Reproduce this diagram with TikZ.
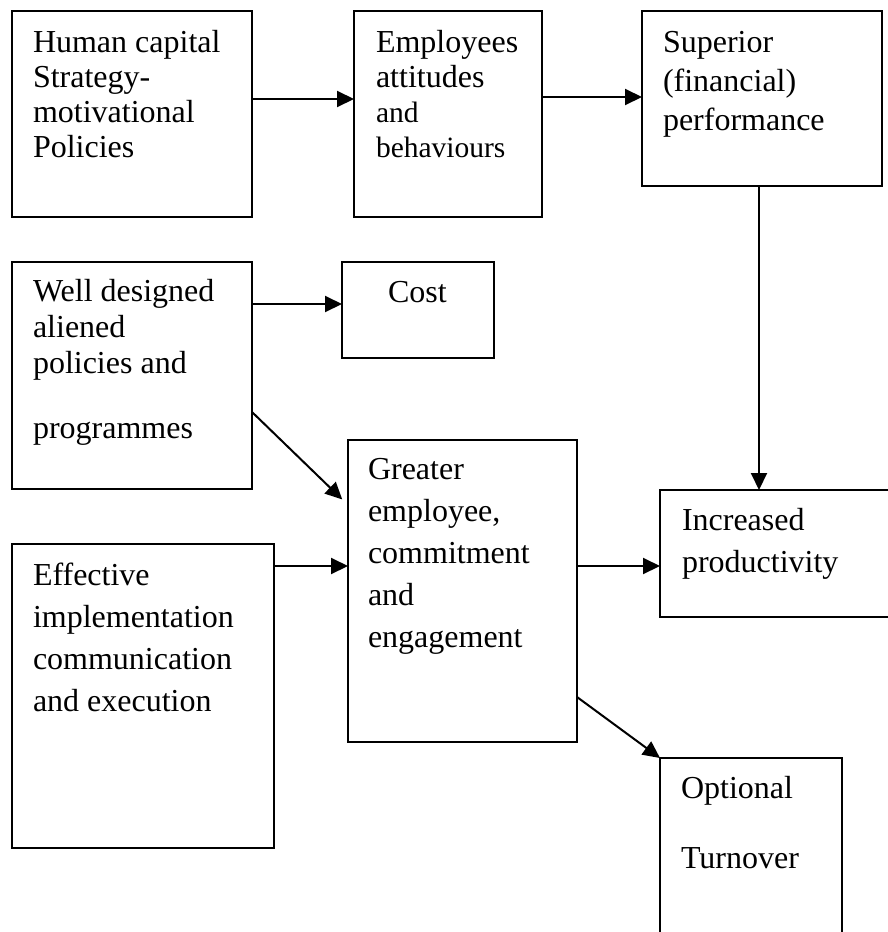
\documentclass[tikz,border=0pt]{standalone}
\usepackage{fontspec}
\setmainfont{Liberation Serif}
\usetikzlibrary{arrows.meta}

\tikzset{
  box/.style={draw, line width=2pt, rectangle, inner sep=0pt, outer sep=0pt, anchor=north west},
  % multi-line labels are placed by the baseline of their last line
  txt/.style={inner sep=0pt, outer sep=0pt, align=left, anchor=base west},
  arr/.style={line width=2pt, -{Triangle[length=17pt,width=16pt]}},
}

\begin{document}
\begin{tikzpicture}[x=1pt, y=1pt]
  \useasboundingbox (0,0) rectangle (888,-932);
  \clip (0,0) rectangle (888,-932);
  \fill[white] (0,0) rectangle (888,-932);

  % boxes
  \node[box, minimum width=240, minimum height=206] (hc)   at (12,-11)  {};
  \node[box, minimum width=188, minimum height=206] (emp)  at (354,-11) {};
  \node[box, minimum width=240, minimum height=175] (sup)  at (642,-11) {};
  \node[box, minimum width=240, minimum height=227] (wd)   at (12,-262) {};
  \node[box, minimum width=152, minimum height=96]  (cost) at (342,-262) {};
  \node[box, minimum width=229, minimum height=302] (gr)   at (348,-440) {};
  \node[box, minimum width=262, minimum height=304] (eff)  at (12,-544) {};
  \node[box, minimum width=250, minimum height=127] (inc)  at (660,-490) {};
  \node[box, minimum width=182, minimum height=200] (opt)  at (660,-758) {};

  % labels
  \node[txt, font=\fontsize{32}{35}\selectfont] (hc-t) at (33,-157)
    {Human capital\\Strategy-\\motivational\\Policies};
  \node[txt, font=\fontsize{32}{35}\selectfont] (emp-t) at (376,-157)
    {Employees\\attitudes\\{\fontsize{29.5}{35}\selectfont and}\\{\fontsize{29.5}{35}\selectfont behaviours}};
  \node[txt, font=\fontsize{32}{39}\selectfont] (sup-t) at (663,-130)
    {Superior\\(financial)\\performance};
  \node[txt, font=\fontsize{32}{36}\selectfont] (wd-t) at (33,-438)
    {Well designed\\aliened\\policies and\\[29pt]programmes};
  \node[txt, font=\fontsize{32}{36}\selectfont] (cost-t) at (388,-302) {Cost};
  \node[txt, font=\fontsize{32}{42}\selectfont] (gr-t) at (368,-647)
    {Greater\\employee,\\commitment\\and\\engagement};
  \node[txt, font=\fontsize{32}{42}\selectfont] (eff-t) at (33,-711)
    {Effective\\implementation\\communication\\and execution};
  \node[txt, font=\fontsize{32}{42}\selectfont] (inc-t) at (682,-572)
    {Increased\\productivity};
  \node[txt, font=\fontsize{32}{70}\selectfont] (opt-t) at (681,-868)
    {Optional\\Turnover};

  % connectors
  \draw[arr] (hc.east |- 0,-99)   -- (emp.west |- 0,-99);
  \draw[arr] (emp.east |- 0,-97)  -- (sup.west |- 0,-97);
  \draw[arr] (sup.south -| 759,0) -- (inc.north -| 759,0);
  \draw[arr] (wd.east |- 0,-304)  -- (cost.west |- 0,-304);
  \draw[arr, shorten >=8pt] (wd.east |- 0,-412) -- (gr.west |- 0,-505);
  \draw[arr] (eff.east |- 0,-566) -- (gr.west |- 0,-566);
  \draw[arr] (gr.east |- 0,-566)  -- (inc.west |- 0,-566);
  \draw[arr] (gr.east |- 0,-697)  -- (opt.north west);
\end{tikzpicture}
\end{document}
